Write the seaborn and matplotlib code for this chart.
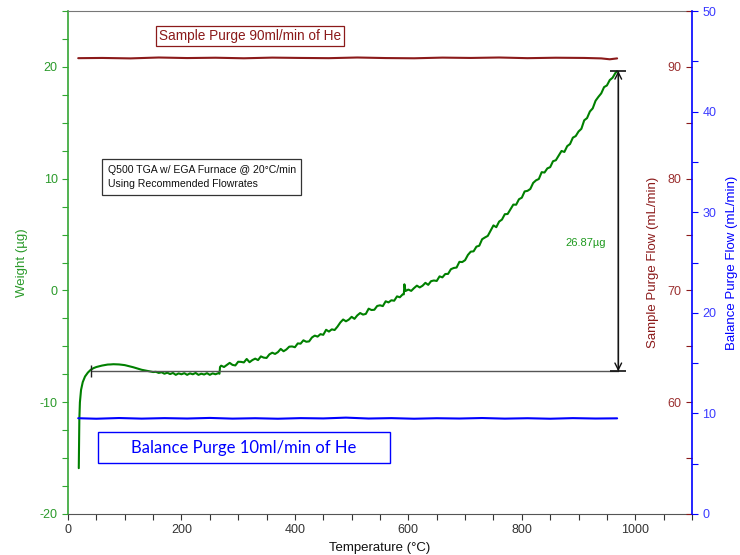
import matplotlib
matplotlib.use("Agg")
import matplotlib.pyplot as plt
from matplotlib.ticker import MultipleLocator, FixedLocator
from matplotlib.patches import Rectangle
import seaborn as sns

# ---- data -------------------------------------------------------------
# TGA weight signal (µg) vs furnace temperature (°C)
temp_c = [19, 20, 21, 23, 26, 30, 35, 40, 45, 50, 55, 60, 65, 70, 75, 80, 85, 90,
          95, 100, 105, 110, 115, 120, 125, 130, 135, 140, 145, 150, 155, 160,
          165, 170, 175, 180, 185, 190, 195, 200, 205, 210, 215, 220, 225, 230,
          235, 240, 245, 250, 255, 260, 265, 267, 268,
          270, 275, 280, 285, 290, 295, 300, 305, 310, 315, 320, 325, 330, 335,
          340, 345, 350, 355, 360, 365, 370, 375, 380, 385, 390, 395, 400, 405,
          410, 415, 420, 425, 430, 435, 440, 445, 450, 455, 460, 465, 470, 475,
          480, 485, 490, 495, 500, 505, 510, 515, 520, 525, 530, 535, 540, 545,
          550, 555, 560, 565, 570, 575, 580, 585, 590, 592, 593, 595,
          600, 605, 610, 615, 620, 625, 630, 635, 640, 645, 650, 655, 660, 665,
          670, 675, 680, 685, 690, 695, 700, 705, 710, 715, 720, 725, 730, 735,
          740, 745, 750, 755, 760, 765, 770, 775, 780, 785, 790, 795, 800, 805,
          810, 815, 820, 825, 830, 835, 840, 845, 850, 855, 860, 865, 870, 875,
          880, 885, 890, 895, 900, 905, 910, 915, 920, 925, 930, 935, 940, 945,
          950, 955, 960, 965, 968]
weight_ug = [-15.9, -11.5, -10.0, -8.9, -8.2, -7.7, -7.35, -7.1, -6.95, -6.85,
             -6.78, -6.72, -6.68, -6.63, -6.62, -6.6, -6.61, -6.62, -6.65, -6.68,
             -6.74, -6.8, -6.87, -6.95, -7.03, -7.1, -7.15, -7.2, -7.26, -7.3,
             -7.28, -7.38, -7.32, -7.45, -7.36, -7.48, -7.38, -7.55, -7.42, -7.5,
             -7.4, -7.55, -7.42, -7.5, -7.38, -7.55, -7.45, -7.52, -7.4, -7.55,
             -7.42, -7.5, -7.4, -7.45, -6.85,
             -6.73, -6.85, -6.66, -6.48, -6.66, -6.71, -6.38, -6.39, -6.44, -6.13,
             -6.42, -6.23, -6.10, -6.23, -5.90, -6.01, -6.04, -5.72, -5.57, -5.68,
             -5.52, -5.23, -5.44, -5.28, -5.03, -5.01, -5.08, -4.74, -4.76, -4.46,
             -4.59, -4.56, -4.21, -4.04, -4.13, -3.91, -3.97, -3.52, -3.68, -3.48,
             -3.54, -3.24, -2.87, -2.60, -2.76, -2.61, -2.36, -2.54, -2.23, -2.02,
             -2.16, -2.10, -1.63, -1.75, -1.73, -1.39, -1.33, -1.40, -0.97, -1.07,
             -0.88, -0.92, -0.53, -0.61, -0.35, -0.35, 0.55, -0.05,
             0.08, -0.04, 0.21, 0.43, 0.27, 0.42, 0.68, 0.50, 0.83, 0.89, 0.85,
             1.26, 1.17, 1.47, 1.48, 1.90, 2.01, 2.05, 2.56, 2.54, 2.71, 3.18,
             3.47, 3.50, 3.92, 4.00, 4.58, 4.74, 4.88, 5.36, 5.82, 5.66, 6.16,
             6.34, 6.82, 6.84, 7.26, 7.68, 7.67, 8.16, 8.30, 8.86, 8.91, 9.08,
             9.62, 9.85, 9.97, 10.58, 10.55, 10.92, 11.03, 11.56, 11.65, 12.06,
             12.48, 12.39, 12.91, 13.10, 13.67, 13.81, 14.22, 14.46, 15.22, 15.42,
             16.01, 16.29, 16.97, 17.32, 17.63, 18.19, 18.34, 18.82, 19.03, 19.46,
             19.6]

# Sample purge flow (mL/min)
sample_temp = [18, 60, 110, 160, 210, 260, 310, 360, 410, 460, 510, 560, 610,
               660, 710, 760, 810, 860, 910, 940, 955, 968]
sample_flow = [90.78, 90.80, 90.76, 90.84, 90.79, 90.82, 90.77, 90.83, 90.80,
               90.78, 90.84, 90.79, 90.77, 90.83, 90.80, 90.84, 90.78, 90.82,
               90.80, 90.76, 90.68, 90.76]

# Balance purge flow (mL/min)
balance_temp = [18, 50, 90, 130, 170, 210, 250, 290, 330, 370, 410, 450, 490,
                530, 570, 610, 650, 690, 730, 770, 810, 850, 890, 930, 968]
balance_flow = [9.52, 9.47, 9.54, 9.48, 9.53, 9.49, 9.55, 9.48, 9.52, 9.47,
                9.53, 9.50, 9.58, 9.49, 9.53, 9.47, 9.52, 9.49, 9.54, 9.48,
                9.52, 9.47, 9.53, 9.49, 9.51]

# step-change measurement
step_start_temp = 40
step_end_temp = 970
baseline_weight = -7.23
final_weight = 19.64

# ---- style --------------------------------------------------------------
sns.set_style("white")
plt.rcParams['font.family'] = ['Liberation Sans', 'DejaVu Sans']
plt.rcParams['axes.unicode_minus'] = False

GREEN_LINE = '#008000'
GREEN_AXIS = '#33a633'
DARK_RED = '#8b1a1a'
RED_TEXT = '#9b3030'
BLUE = '#0000ff'
BLUE_TEXT = '#3a3aff'

fig = plt.figure(figsize=(7.4, 5.55), dpi=100)
ax = fig.add_axes([68 / 740, 41 / 555, 624 / 740, 503 / 555])
ax2 = ax.twinx()
ax3 = ax.twinx()

# ---- weight axis ------------------------------------------------------
sns.lineplot(x=temp_c, y=weight_ug, ax=ax, color=GREEN_LINE, linewidth=1.5,
             estimator=None, errorbar=None)
ax.set_xlim(0, 1100)
ax.set_ylim(-20, 25)
ax.xaxis.set_major_locator(MultipleLocator(200))
ax.xaxis.set_minor_locator(MultipleLocator(50))
ax.yaxis.set_major_locator(MultipleLocator(10))
ax.yaxis.set_minor_locator(MultipleLocator(2.5))
ax.tick_params(axis='x', which='both', direction='out', bottom=True,
               colors='#333333', labelsize=9, length=4, width=0.8)
ax.tick_params(axis='y', which='both', direction='out', left=True,
               colors=GREEN_AXIS, labelcolor='#2a9a2a', labelsize=9,
               length=4, width=0.8)
ax.set_xlabel('Temperature (°C)', fontsize=9.5, color='#111111', labelpad=4)
ax.set_ylabel('Weight (µg)', fontsize=9.5, color='#2a9a2a', labelpad=8)
ax.spines['left'].set_color(GREEN_AXIS)
ax.spines['left'].set_linewidth(1.2)
ax.spines['bottom'].set_color('#555555')
ax.spines['top'].set_color('#777777')
ax.spines['right'].set_visible(False)

# step measurement: baseline, end arrow and value label
ax.plot([step_start_temp, step_end_temp], [baseline_weight, baseline_weight],
        color='#555555', linewidth=1.0)
ax.plot([step_start_temp], [baseline_weight], marker='|', color='#222222',
        markersize=8, markeredgewidth=1.0)
ax.plot([step_end_temp, step_end_temp], [baseline_weight, final_weight],
        color='#555555', linewidth=1.0)
ax.annotate('', xy=(step_end_temp, final_weight),
            xytext=(step_end_temp, baseline_weight),
            arrowprops=dict(arrowstyle='<->', color='#111111', lw=1.0,
                            shrinkA=0, shrinkB=0, mutation_scale=12))
ax.plot([step_end_temp, step_end_temp], [baseline_weight, final_weight],
        linestyle='none', marker='_', color='#111111', markersize=11,
        markeredgewidth=1.2)
ax.text(912, 4.2, f'{final_weight - baseline_weight:.2f}µg', color='#1f9a1f',
        fontsize=8, ha='center', va='center')

ax.text(0.0635, 0.670, 'Q500 TGA w/ EGA Furnace @ 20°C/min\nUsing Recommended Flowrates',
        transform=ax.transAxes, fontsize=7.6, ha='left', va='center',
        color='#111111', linespacing=1.6,
        bbox=dict(boxstyle='square,pad=0.52', facecolor='white',
                  edgecolor='#333333', linewidth=0.9))

# ---- sample purge axis (inside, left of the right spine) --------------
sns.lineplot(x=sample_temp, y=sample_flow, ax=ax2, color=DARK_RED,
             linewidth=1.5, estimator=None, errorbar=None)
ax2.set_ylim(50, 95)
ax2.yaxis.set_ticks_position('left')
ax2.yaxis.set_label_position('left')
ax2.spines['left'].set_position(('axes', 1.0))
for side in ['left', 'right', 'top', 'bottom']:
    ax2.spines[side].set_visible(False)
ax2.yaxis.set_major_locator(FixedLocator([60, 70, 80, 90]))
ax2.yaxis.set_minor_locator(FixedLocator([50, 55, 65, 75, 85, 95]))
ax2.tick_params(axis='y', which='both', direction='out', left=True, right=False,
                labelleft=True, labelright=False, colors=DARK_RED,
                labelcolor=RED_TEXT, labelsize=9, length=4, width=0.8)
ax2.set_ylabel('Sample Purge Flow (mL/min)', fontsize=9.5, color=DARK_RED,
               labelpad=6)

ax2.text(0.292, 0.950, 'Sample Purge 90ml/min of He', transform=ax2.transAxes,
         fontsize=9.8, color=DARK_RED, ha='center', va='center',
         bbox=dict(boxstyle='square,pad=0.22', facecolor='white',
                   edgecolor=DARK_RED, linewidth=0.9))

# ---- balance purge axis (outer right) ---------------------------------
sns.lineplot(x=balance_temp, y=balance_flow, ax=ax3, color=BLUE,
             linewidth=1.5, estimator=None, errorbar=None)
ax3.set_ylim(0, 50)
ax3.yaxis.set_major_locator(MultipleLocator(10))
ax3.yaxis.set_minor_locator(MultipleLocator(5))
for side in ['left', 'top', 'bottom']:
    ax3.spines[side].set_visible(False)
ax3.spines['right'].set_color(BLUE)
ax3.spines['right'].set_linewidth(1.2)
ax3.tick_params(axis='y', which='both', direction='out', right=True,
                colors=BLUE, labelcolor=BLUE_TEXT, labelsize=9,
                length=4, width=0.8)
ax3.set_ylabel('Balance Purge Flow (mL/min)', fontsize=9.5, color=BLUE,
               labelpad=7)

ax3.add_patch(Rectangle((0.048, 0.101), 0.468, 0.062, transform=ax3.transAxes,
                        facecolor='white', edgecolor=BLUE, linewidth=1.0))
ax3.text(0.282, 0.131, 'Balance Purge 10ml/min of He', transform=ax3.transAxes,
         fontsize=12, color=BLUE, ha='center', va='center',
         family=['Lato', 'DejaVu Sans'])

fig.savefig('out.png', dpi=100)
